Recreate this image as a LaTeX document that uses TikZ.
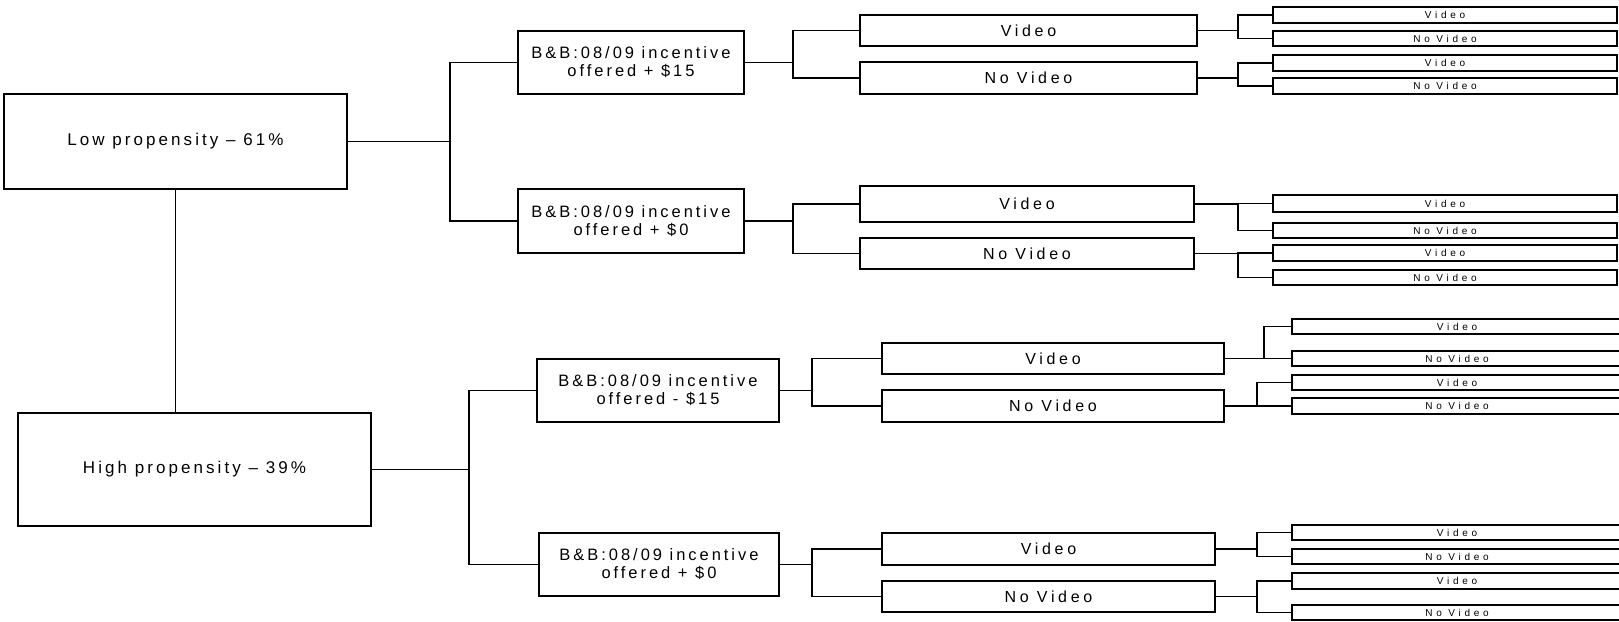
\documentclass[tikz,border=0pt]{standalone}
\usepackage{fontspec}
\setmainfont{Liberation Sans}

\tikzset{
  box/.style={draw, line width=1.2pt, inner sep=0pt, align=center},
  rootbox/.style={box, font=\fontsize{17}{20}\selectfont\addfontfeatures{LetterSpace=18}},
  offerbox/.style={box, font=\fontsize{16.5}{18}\selectfont\addfontfeatures{LetterSpace=18}},
  midbox/.style={box, font=\fontsize{16}{18}\selectfont\addfontfeatures{LetterSpace=23}},
  leafbox/.style={box, font=\fontsize{10}{10}\selectfont\addfontfeatures{LetterSpace=37}},
  link/.style={line width=1.2pt}
}

\begin{document}
\begin{tikzpicture}[x=1pt, y=-1pt]
\useasboundingbox (0,0) rectangle (1619,621);

% propensity groups
\node[rootbox, minimum width=343pt, minimum height=95pt] (low) at (175.5,141.5) {Low propensity -- 61\%};
\node[rootbox, minimum width=353pt, minimum height=113pt] (high) at (194.5,469.5) {High propensity -- 39\%};

% incentive offers
\node[offerbox, minimum width=226pt, minimum height=63pt] (bbL1) at (631,62.5) {B\&B:08/09 incentive\\offered + \$15};
\node[offerbox, minimum width=226pt, minimum height=64pt] (bbL2) at (631,221) {B\&B:08/09 incentive\\offered + \$0};
\node[offerbox, minimum width=242pt, minimum height=63pt] (bbH1) at (658,390.5) {B\&B:08/09 incentive\\offered - \$15};
\node[offerbox, minimum width=240pt, minimum height=63pt] (bbH2) at (659,564.5) {B\&B:08/09 incentive\\offered + \$0};

% video or not
\foreach \n/\x/\y/\w/\h/\t in {vL1/1028.5/30.5/337/31/Video, nL1/1028.5/78/337/32/No Video,
    vL2/1027/204/334/36/Video, nL2/1027/253.5/334/31/No Video,
    vH1/1053/358.5/342/31/Video, nH1/1053/406/342/32/No Video,
    vH2/1048.5/549/333/32/Video, nH2/1048.5/596.5/333/31/No Video}
  \node[midbox, minimum width=\w pt, minimum height=\h pt] (\n) at (\x,\y) {\t};

% second video split
\foreach \n/\y/\h/\t in {vL1-a/15/16/Video, vL1-b/38.5/15/No Video,
    nL1-a/63/16/Video, nL1-b/86/16/No Video,
    vL2-a/203.5/17/Video, vL2-b/230.5/15/No Video,
    nL2-a/253/16/Video, nL2-b/277.5/15/No Video}
  \node[leafbox, minimum width=344pt, minimum height=\h pt] (\n) at (1445,\y) {\t};
\foreach \n/\y/\h/\t in {vH1-a/326.5/15/Video, vH1-b/358.5/15/No Video,
    nH1-a/382.5/15/Video, nH1-b/406/16/No Video,
    vH2-a/532.5/15/Video, vH2-b/556.5/15/No Video,
    nH2-a/581/16/Video, nH2-b/612.5/15/No Video}
  \node[leafbox, minimum width=330pt, minimum height=\h pt] (\n) at (1457,\y) {\t};

% links
\draw[link] (low.south) -- (low.south |- high.north);
\foreach \p/\a/\b/\x in {low/bbL1/bbL2/450, high/bbH1/bbH2/469,
    bbL1/vL1/nL1/793, bbL2/vL2/nL2/793, bbH1/vH1/nH1/812, bbH2/vH2/nH2/812,
    vL1/vL1-a/vL1-b/1238, nL1/nL1-a/nL1-b/1238, vL2/vL2-a/vL2-b/1238, nL2/nL2-a/nL2-b/1238,
    vH1/vH1-a/vH1-b/1264, nH1/nH1-a/nH1-b/1257, vH2/vH2-a/vH2-b/1257, nH2/nH2-a/nH2-b/1257} {
  \coordinate (j) at (\x,0);
  \draw[link] (\p.east) -- (\p.east -| j) |- (\a.west);
  \draw[link] (\p.east -| j) |- (\b.west);
}
\end{tikzpicture}
\end{document}
